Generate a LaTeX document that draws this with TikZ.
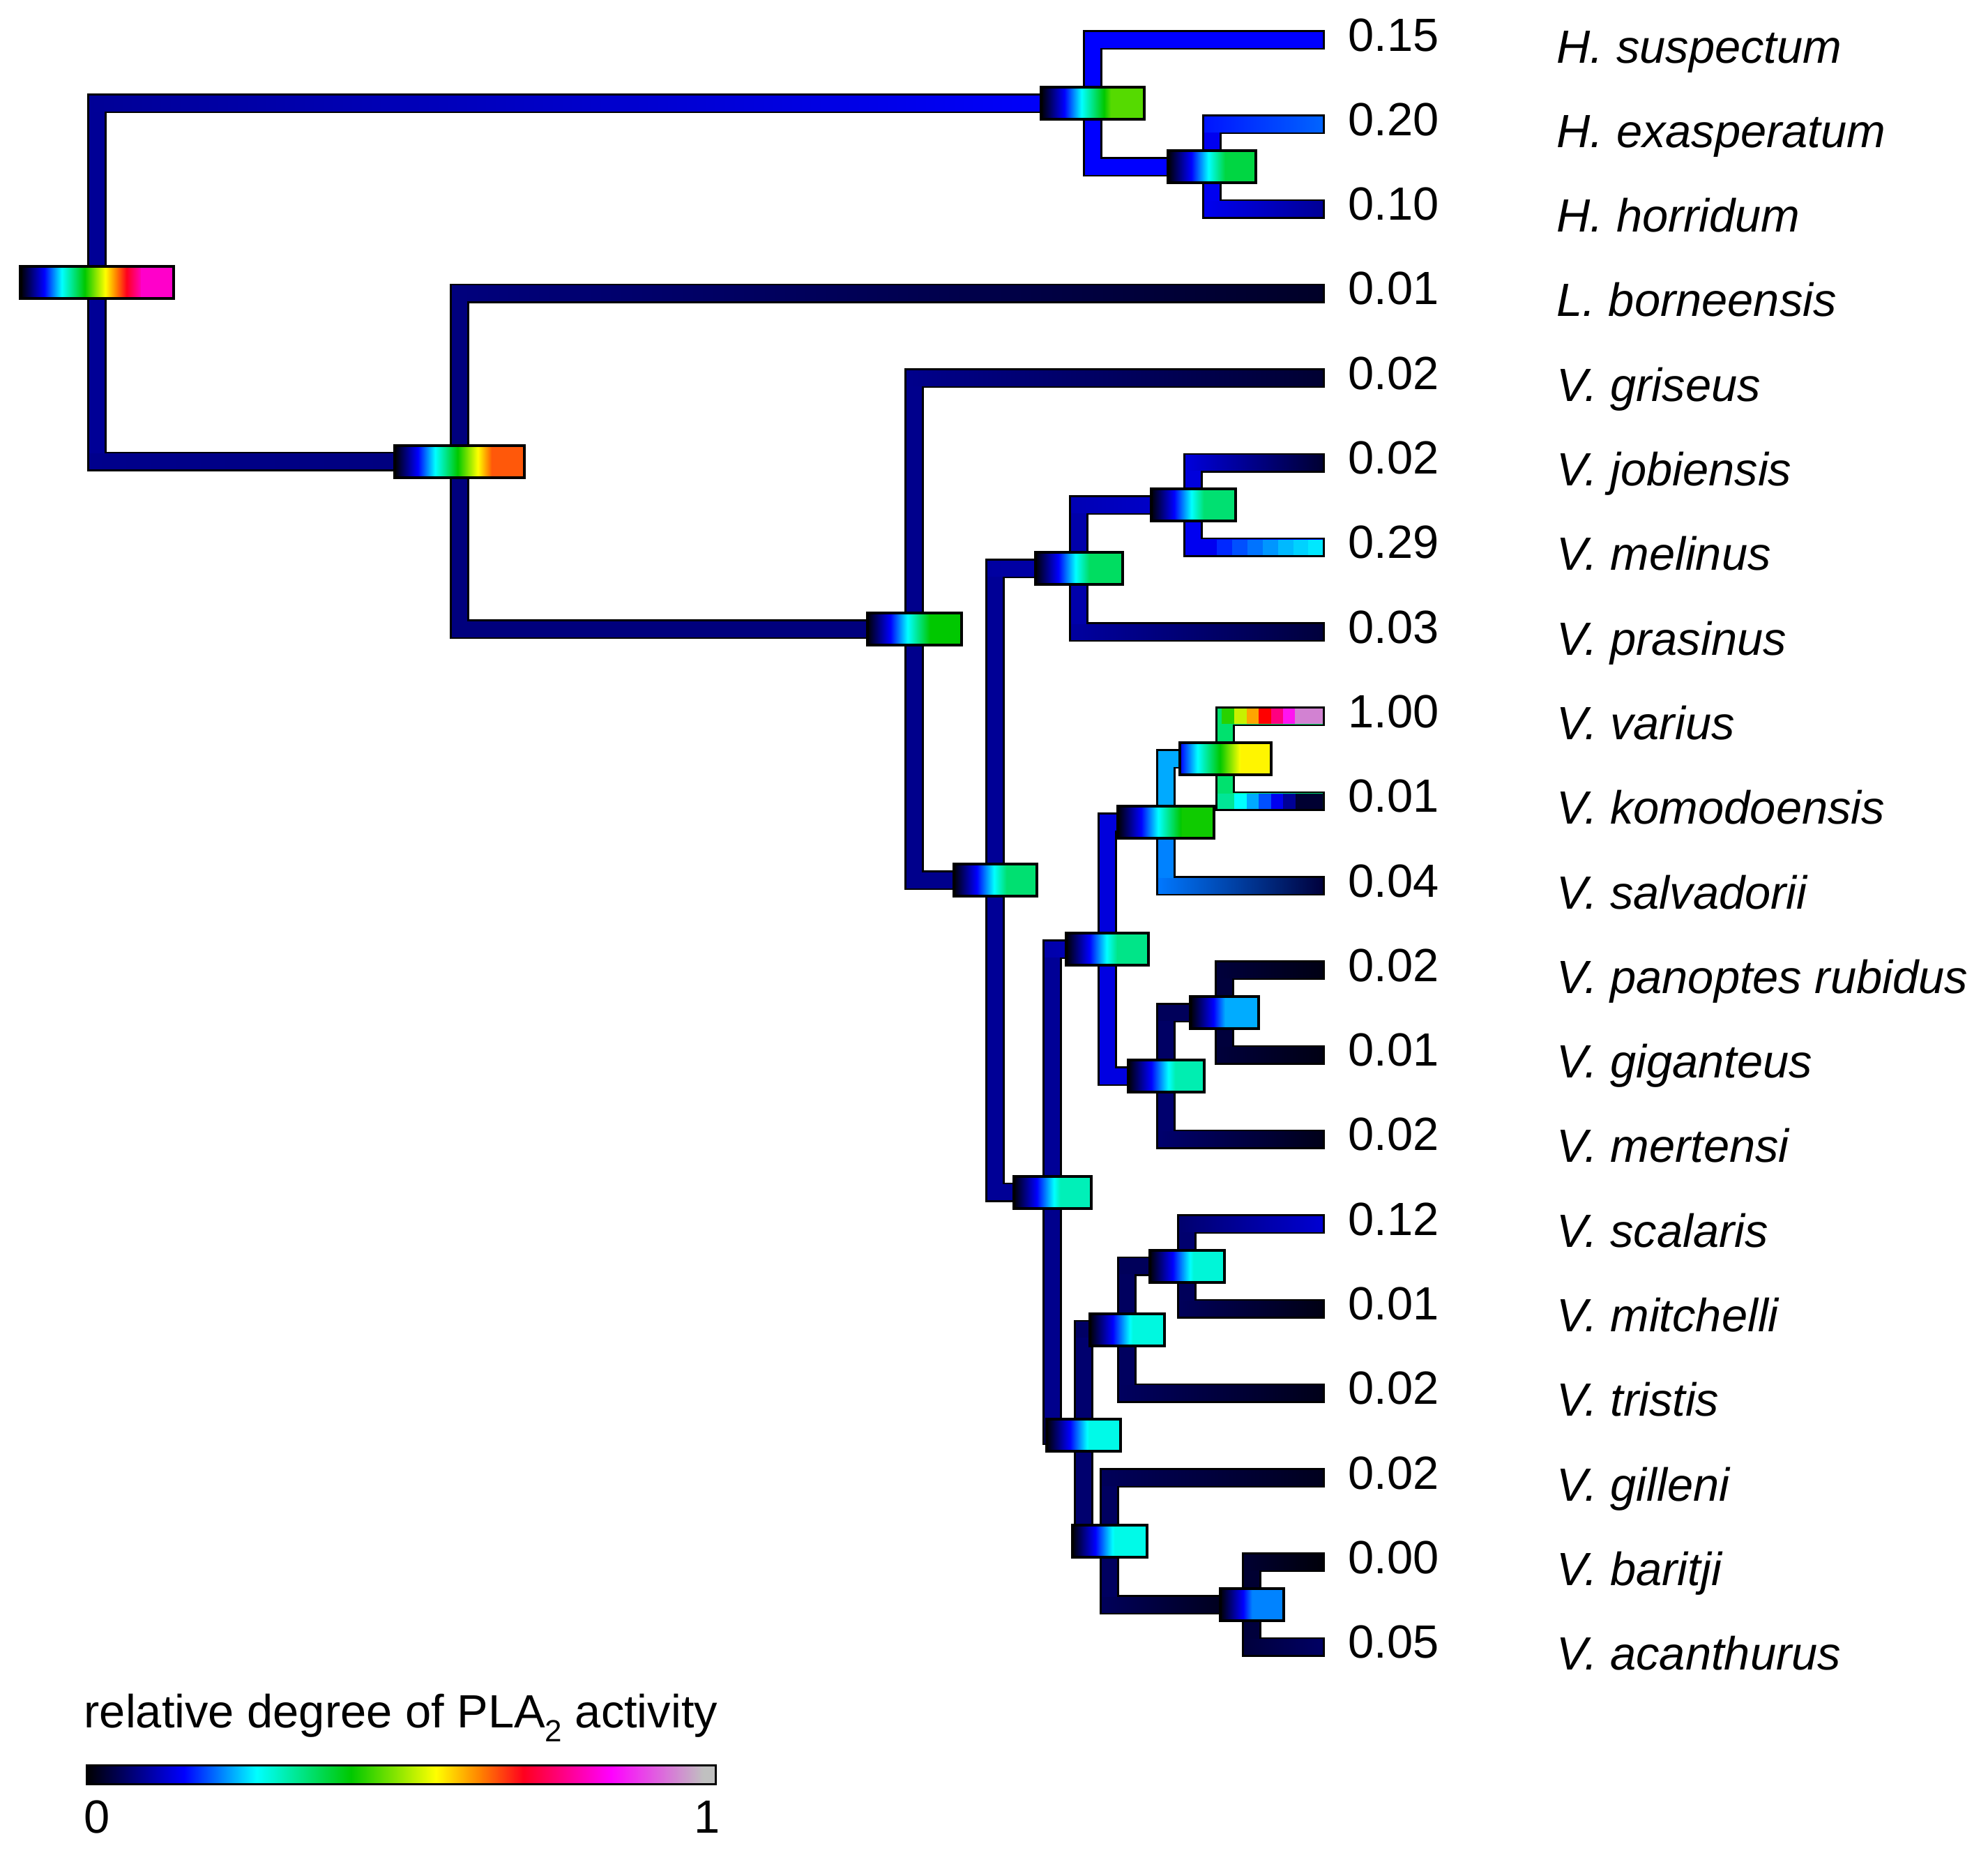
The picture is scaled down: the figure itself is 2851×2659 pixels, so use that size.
\documentclass[tikz,border=0pt]{standalone}
\usepackage{fontspec}
\setmainfont{Liberation Sans}
\usetikzlibrary{calc}
% colour-bar stops
\definecolor{cbblue}{RGB}{0,0,255}
\definecolor{cbcyan}{RGB}{0,255,255}
\definecolor{cbgreen}{RGB}{0,200,0}
\definecolor{cbyellow}{RGB}{255,255,0}
\definecolor{cborange}{RGB}{255,130,0}
\definecolor{cbred}{RGB}{255,0,30}
\definecolor{cbmag}{RGB}{255,0,255}
\definecolor{cbgray}{RGB}{192,192,192}
\pgfdeclarehorizontalshading{cbar}{100bp}{color(0bp)=(black); color(25bp)=(black); color(32.75bp)=(cbblue); color(38.5bp)=(cbcyan); color(46bp)=(cbgreen); color(52.75bp)=(cbyellow); color(56.25bp)=(cborange); color(59.7bp)=(cbred); color(66.65bp)=(cbmag); color(74bp)=(cbgray); color(100bp)=(cbgray)}
% branch colours
\definecolor{N10}{RGB}{0,0,10}
\definecolor{N15}{RGB}{0,0,15}
\definecolor{N20}{RGB}{0,0,20}
\definecolor{N25}{RGB}{0,0,25}
\definecolor{N30}{RGB}{0,0,30}
\definecolor{N40}{RGB}{0,0,40}
\definecolor{N50}{RGB}{0,0,50}
\definecolor{N60}{RGB}{0,0,60}
\definecolor{N90}{RGB}{0,0,90}
\definecolor{N95}{RGB}{0,0,95}
\definecolor{N100}{RGB}{0,0,100}
\definecolor{N110}{RGB}{0,0,110}
\definecolor{N125}{RGB}{0,0,125}
\definecolor{N130}{RGB}{0,0,130}
\definecolor{N140}{RGB}{0,0,140}
\definecolor{N150}{RGB}{0,0,150}
\definecolor{N160}{RGB}{0,0,160}
\definecolor{N170}{RGB}{0,0,170}
\definecolor{N180}{RGB}{0,0,180}
\definecolor{N190}{RGB}{0,0,190}
\definecolor{N210}{RGB}{0,0,210}
\definecolor{N220}{RGB}{0,0,220}
\definecolor{N225}{RGB}{0,0,225}
\definecolor{N240}{RGB}{0,0,240}
\definecolor{X20}{RGB}{0,20,255}
\definecolor{X100}{RGB}{0,100,255}
\definecolor{X120}{RGB}{0,120,255}
\definecolor{X130}{RGB}{0,130,255}
\definecolor{X170}{RGB}{0,170,255}
\definecolor{SG}{RGB}{0,225,110}
% box flat colours
\definecolor{fR}{RGB}{255,0,202}
\definecolor{fHn}{RGB}{85,218,0}
\definecolor{fHx}{RGB}{0,214,66}
\definecolor{fLV}{RGB}{255,88,10}
\definecolor{fV}{RGB}{0,200,0}
\definecolor{fA}{RGB}{0,224,113}
\definecolor{fB}{RGB}{0,221,97}
\definecolor{fD}{RGB}{0,240,184}
\definecolor{fE}{RGB}{0,229,136}
\definecolor{fFa}{RGB}{15,203,0}
\definecolor{fFb}{RGB}{255,245,0}
\definecolor{fG}{RGB}{0,238,177}
\definecolor{fP}{RGB}{0,172,255}
\definecolor{fF}{RGB}{0,250,232}
\definecolor{fI}{RGB}{0,248,224}
\definecolor{fK}{RGB}{0,246,216}
\definecolor{fL}{RGB}{0,131,255}
\tikzset{
  outl/.style={draw=black,line width=0.28cm,line join=miter},
  tbx/.style={draw=black,line width=0.04cm,inner sep=0pt,minimum height=0.46cm,rectangle},
  numlab/.style={font=\fontsize{19}{23}\selectfont,anchor=base west,inner sep=0pt},
  splab/.style={font=\fontsize{19}{23}\selectfont\itshape,anchor=base west,inner sep=0pt},
}
\newcommand\brol[2]{\draw[outl] (#1) |- ($(#2)+(3,0)$);}
\newcommand\brn[5]{%
  \fill[#3] ($(#1)+(-11,0)$) rectangle ($(#1 |- #2)+(11,0)$);
  \shade[left color=#4,right color=#5] ($(#1 |- #2)+(-11,-11)$) rectangle ($(#2)+(0,11)$);}
\newcommand\tbox[6]{%
  \node[tbx,minimum width={(#3-4)*0.01cm},path picture={%
    \shade[shading=cbar] ($(path picture bounding box.south west)+({-#4*215},0)$) rectangle ($(path picture bounding box.north west)+({215-#4*215},0)$);
    \fill[#6] ($(path picture bounding box.south west)+(#5,0)$) rectangle (path picture bounding box.north east);
  }] (#1) at (#2) {};}
\newcommand\steps[2]{% y-centre, list
  \foreach \xa/\xb/\cr/\cg/\cb in {#2}
  {\definecolor{stepc}{RGB}{\cr,\cg,\cb}\fill[stepc] (\xa,{#1-11}) rectangle (\xb,{#1+11});}}
\begin{document}
\begin{tikzpicture}[x=0.01cm,y=-0.01cm]
\useasboundingbox (0,0) rectangle (2851,2659);
\fill[white] (0,0) rectangle (2851,2659);
% tree nodes
\coordinate (R) at (139,404.8);
\coordinate (Hn) at (1567,148);
\coordinate (Hx) at (1738,239);
\coordinate (LV) at (659,661.6);
\coordinate (V) at (1311,902.3);
\coordinate (A) at (1427,1262.4);
\coordinate (B) at (1547,815.1);
\coordinate (C) at (1711,724.2);
\coordinate (D) at (1509,1709.7);
\coordinate (E) at (1588,1361);
\coordinate (Fa) at (1672,1179);
\coordinate (Fb) at (1757,1088);
\coordinate (G) at (1672,1543);
\coordinate (P) at (1756,1452);
\coordinate (F) at (1554,2058.4);
\coordinate (I) at (1616,1906.8);
\coordinate (K) at (1702,1815.9);
\coordinate (J) at (1591,2210);
\coordinate (L) at (1795,2301);
\foreach \i in {0,...,19} {\coordinate (t\i) at (1897,{57+121.3*\i});}
% outlines
\brol{R}{Hn}\brol{R}{LV}\brol{Hn}{t0}\brol{Hn}{Hx}\brol{Hx}{t1}\brol{Hx}{t2}
\brol{LV}{t3}\brol{LV}{V}\brol{V}{t4}\brol{V}{A}\brol{A}{B}\brol{A}{D}
\brol{B}{C}\brol{B}{t7}\brol{C}{t5}\brol{C}{t6}\brol{D}{E}\brol{D}{F}
\brol{E}{Fa}\brol{E}{G}\brol{Fa}{Fb}\brol{Fa}{t10}\brol{Fb}{t8}\brol{Fb}{t9}
\brol{G}{P}\brol{G}{t13}\brol{P}{t11}\brol{P}{t12}\brol{F}{I}\brol{F}{J}
\brol{I}{K}\brol{I}{t16}\brol{K}{t14}\brol{K}{t15}\brol{J}{t17}\brol{J}{L}
\brol{L}{t18}\brol{L}{t19}
% coloured branches
\brn{R}{Hn}{N150}{N150}{cbblue}
\brn{R}{LV}{N150}{N140}{N125}
\brn{Hn}{t0}{cbblue}{cbblue}{cbblue}
\brn{Hn}{Hx}{cbblue}{cbblue}{cbblue}
\brn{Hx}{t1}{N240}{X20}{X100}
\brn{Hx}{t2}{N240}{N240}{N150}
\brn{LV}{t3}{N125}{N125}{N40}
\brn{LV}{V}{N125}{N125}{N125}
\brn{V}{t4}{N140}{N140}{N50}
\brn{V}{A}{N140}{N140}{N140}
\brn{A}{B}{N150}{N160}{N170}
\brn{A}{D}{N150}{N150}{N150}
\brn{B}{C}{N170}{N180}{N210}
\brn{B}{t7}{N170}{N160}{N60}
\brn{C}{t5}{N220}{N220}{N50}
\brn{C}{t6}{N240}{N240}{N240}
\brn{D}{E}{N150}{N170}{N190}
\brn{D}{F}{N140}{N130}{N130}
\brn{E}{Fa}{N220}{N220}{N220}
\brn{E}{G}{N225}{N225}{N225}
\brn{Fa}{Fb}{X170}{X170}{X170}
\brn{Fa}{t10}{X130}{X120}{N60}
\brn{Fb}{t8}{SG}{SG}{SG}
\brn{Fb}{t9}{SG}{SG}{SG}
\brn{G}{P}{N100}{N90}{N90}
\brn{G}{t13}{N110}{N110}{N25}
\brn{P}{t11}{N60}{N60}{N20}
\brn{P}{t12}{N60}{N60}{N20}
\brn{F}{I}{N110}{N100}{N100}
\brn{F}{J}{N110}{N100}{N100}
\brn{I}{K}{N95}{N90}{N90}
\brn{I}{t16}{N95}{N95}{N25}
\brn{K}{t14}{N110}{N110}{N210}
\brn{K}{t15}{N90}{N90}{N20}
\brn{J}{t17}{N95}{N90}{N30}
\brn{J}{L}{N95}{N90}{N15}
\brn{L}{t18}{N50}{N50}{N10}
\brn{L}{t19}{N60}{N60}{N100}
% stepped tips
\steps{784.8}{1745/1767/0/40/255,1767/1789/0/80/255,1789/1811/0/115/255,1811/1833/0/150/255,1833/1855/0/185/255,1855/1876/0/210/255,1876/1897/0/232/255}
\steps{1027.4}{1752/1770/40/210/0,1770/1788/200/240/0,1788/1805/255/165/0,1805/1823/255/0/0,1823/1840/255/0/128,1840/1857/255/20/240,1857/1897/210/130/210}
\steps{1148.7}{1746/1770/0/230/150,1770/1788/0/255/255,1788/1805/0/170/255,1805/1823/0/80/255,1823/1840/0/0/240,1840/1858/0/0/150,1858/1897/0/0/50}
% node boxes
\tbox{bR}{R}{223}{0}{172}{fR}
\tbox{bHn}{Hn}{152}{0}{100}{fHn}
\tbox{bHx}{Hx}{130}{0}{82}{fHx}
\tbox{bLV}{LV}{190}{0}{139}{fLV}
\tbox{bV}{V}{139}{0}{90}{fV}
\tbox{bA}{A}{123}{0}{76}{fA}
\tbox{bB}{B}{129}{0}{78}{fB}
\tbox{bC}{C}{125}{0}{76}{fA}
\tbox{bD}{D}{115}{0}{67}{fD}
\tbox{bE}{E}{122}{0}{73}{fE}
\tbox{bFa}{Fa}{142}{0}{92}{fFa}
\tbox{bFb}{Fb}{135}{0.15}{87}{fFb}
\tbox{bG}{G}{113}{0}{68}{fG}
\tbox{bP}{P}{102}{0}{50}{fP}
\tbox{bF}{F}{110}{0}{61}{fF}
\tbox{bI}{I}{111}{0}{62}{fI}
\tbox{bK}{K}{111}{0}{63}{fK}
\tbox{bJ}{J}{111}{0}{61}{fF}
\tbox{bL}{L}{95}{0}{46}{fL}
% labels
\foreach \i/\v/\s in {0/0.15/H. suspectum,1/0.20/H. exasperatum,2/0.10/H. horridum,3/0.01/L. borneensis,4/0.02/V. griseus,5/0.02/V. jobiensis,6/0.29/V. melinus,7/0.03/V. prasinus,8/1.00/V. varius,9/0.01/V. komodoensis,10/0.04/V. salvadorii,11/0.02/V. panoptes rubidus,12/0.01/V. giganteus,13/0.02/V. mertensi,14/0.12/V. scalaris,15/0.01/V. mitchelli,16/0.02/V. tristis,17/0.02/V. gilleni,18/0.00/V. baritji,19/0.05/V. acanthurus}
{
  \node[numlab] (num\i) at (1933,{57+121.3*\i+16}) {\v};
  \node[splab] (sp\i) at (2232,{57+121.3*\i+33}) {\s};
}
% legend
\node[numlab] (legtitle) at (120,2477) {relative degree of PLA\raisebox{-0.3em}{\fontsize{12.5}{13}\selectfont 2} activity};
\node[draw=black,line width=0.03cm,inner sep=0pt,minimum width=9.02cm,minimum height=0.27cm,shade,shading=cbar] (cbar) at (575.5,2545) {};
\node[numlab] (lab0) at (120,2628) {0};
\node[numlab,anchor=base east] (lab1) at (1033,2628) {1};
\end{tikzpicture}
\end{document}
